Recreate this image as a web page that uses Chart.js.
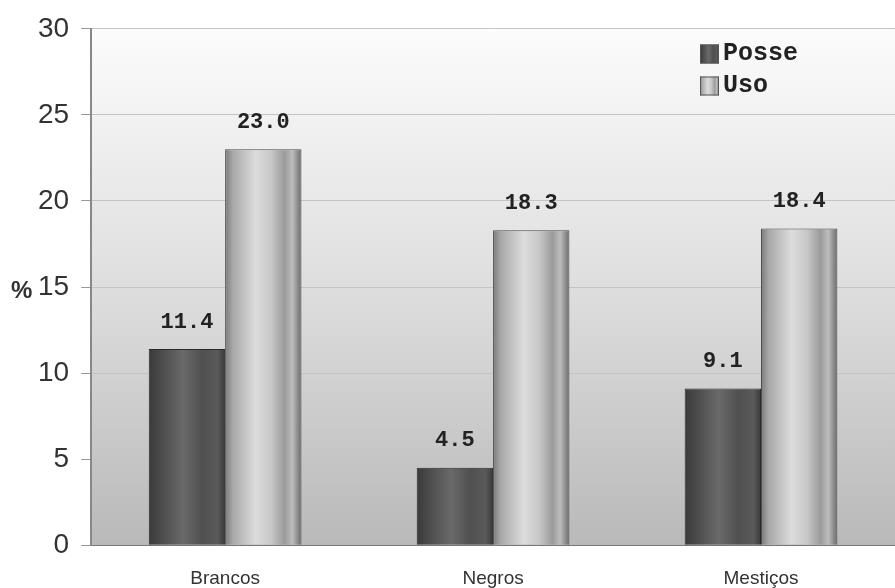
<!DOCTYPE html>
<html>
<head>
<meta charset="utf-8">
<script src="https://cdn.jsdelivr.net/npm/chart.js@4/dist/chart.umd.min.js"></script>
<style>
  html, body { margin: 0; padding: 0; background: #ffffff; }
  #wrap { width: 895px; height: 588px; position: relative; overflow: hidden; }
</style>
</head>
<body>
<div id="wrap"><canvas id="c" width="895" height="588"></canvas></div>
<script>
// Categories and series
const categories = ['Brancos', 'Negros', 'Mestiços'];
const posse = [11.4, 4.5, 9.1];
const uso = [23.0, 18.3, 18.4];
const seriesNames = ['Posse', 'Uso'];
const yTicks = [0, 5, 10, 15, 20, 25, 30];

const CAT_PCT = 0.57;

// Horizontal shading for each bar, computed from the x scale
function barGradient(ctx, stops, fallback) {
  const chart = ctx.chart;
  const xs = chart.scales && chart.scales.x;
  if (!xs || !chart.chartArea || ctx.dataIndex === undefined) return fallback;
  const catW = xs.width / categories.length;
  const group = catW * CAT_PCT;
  const center = xs.getPixelForValue(ctx.dataIndex);
  const x0 = ctx.datasetIndex === 0 ? center - group / 2 : center;
  const x1 = x0 + group / 2;
  const g = chart.ctx.createLinearGradient(x0, 0, x1, 0);
  stops.forEach(s => g.addColorStop(s[0], s[1]));
  return g;
}

const posseStops = [[0, '#3a3a3a'], [0.15, '#4a4a4a'], [0.45, '#6a6a6a'], [0.7, '#505050'], [0.9, '#5a5a5a'], [1, '#3a3a3a']];
const usoStops = [[0, '#7a7a7a'], [0.1, '#a8a8a8'], [0.4, '#dcdcdc'], [0.6, '#c8c8c8'], [0.78, '#9a9a9a'], [0.88, '#bdbdbd'], [1, '#6a6a6a']];

// Plot background: light at the top, grey at the bottom
const bgPlugin = {
  id: 'plotBg',
  beforeDraw(chart) {
    const { ctx, chartArea: a } = chart;
    const g = ctx.createLinearGradient(0, a.top, 0, a.bottom);
    g.addColorStop(0, '#fcfcfc');
    g.addColorStop(0.5, '#dedede');
    g.addColorStop(1, '#b9b9b9');
    ctx.save();
    ctx.fillStyle = g;
    ctx.fillRect(a.left, a.top, a.right - a.left, a.bottom - a.top);
    ctx.restore();
  }
};

// Value labels above bars, "%" axis label and legend box
const labelPlugin = {
  id: 'labels',
  afterDatasetsDraw(chart) {
    const { ctx } = chart;
    ctx.save();
    ctx.font = 'bold 22px "Liberation Mono", "Courier New", monospace';
    ctx.fillStyle = '#222';
    ctx.textAlign = 'center';
    ctx.textBaseline = 'middle';
    chart.data.datasets.forEach((ds, di) => {
      const meta = chart.getDatasetMeta(di);
      meta.data.forEach((el, i) => {
        ctx.fillText(ds.data[i].toFixed(1), el.x, el.y - 27);
      });
    });

    // "%" beside the y axis
    ctx.font = 'bold 24px "Liberation Sans", Arial, sans-serif';
    ctx.fillStyle = '#333';
    ctx.textAlign = 'left';
    ctx.fillText('%', 11, chart.scales.y.getPixelForValue(15) + 4);

    // Legend
    ctx.font = 'bold 25px "Liberation Mono", "Courier New", monospace';
    ctx.textBaseline = 'middle';
    const lx = 700, ly = [54, 86], sz = 19;
    const fills = [posseStops, usoStops];
    seriesNames.forEach((name, i) => {
      const g = ctx.createLinearGradient(lx, 0, lx + sz, 0);
      fills[i].forEach(s => g.addColorStop(s[0], s[1]));
      ctx.fillStyle = g;
      ctx.fillRect(lx, ly[i] - sz / 2, sz, sz);
      ctx.strokeStyle = '#555';
      ctx.lineWidth = 1;
      ctx.strokeRect(lx + 0.5, ly[i] - sz / 2 + 0.5, sz - 1, sz - 1);
      ctx.fillStyle = '#222';
      ctx.fillText(name, lx + sz + 4, ly[i]);
    });
    ctx.restore();
  }
};

new Chart(document.getElementById('c'), {
  type: 'bar',
  data: {
    labels: categories,
    datasets: [
      {
        label: seriesNames[0],
        data: posse,
        backgroundColor: ctx => barGradient(ctx, posseStops, '#4a4a4a'),
        borderColor: '#2a2a2a',
        borderWidth: 1,
        categoryPercentage: CAT_PCT,
        barPercentage: 1.0
      },
      {
        label: seriesNames[1],
        data: uso,
        backgroundColor: ctx => barGradient(ctx, usoStops, '#b0b0b0'),
        borderColor: '#4a4a4a',
        borderWidth: 1,
        categoryPercentage: CAT_PCT,
        barPercentage: 1.0
      }
    ]
  },
  options: {
    responsive: false,
    animation: false,
    devicePixelRatio: 1,
    layout: { padding: { top: 14, right: 0, left: 26, bottom: -24 } },
    plugins: {
      legend: { display: false },
      tooltip: { enabled: false }
    },
    scales: {
      x: {
        grid: { display: false, drawTicks: false },
        border: { display: true, color: '#777', width: 1 },
        ticks: {
          color: '#333',
          padding: 22,
          font: { family: '"Liberation Sans", Arial, sans-serif', size: 19 }
        }
      },
      y: {
        min: 0,
        max: 30,
        afterBuildTicks(axis) { axis.ticks = yTicks.map(v => ({ value: v })); },
        grid: { color: '#c4c4c4', lineWidth: 1, tickLength: 10, tickColor: '#999' },
        border: { display: true, color: '#888', width: 2 },
        ticks: {
          color: '#333',
          padding: 12,
          font: { family: '"Liberation Sans", Arial, sans-serif', size: 28 }
        }
      }
    }
  },
  plugins: [bgPlugin, labelPlugin]
});
</script>
</body>
</html>
